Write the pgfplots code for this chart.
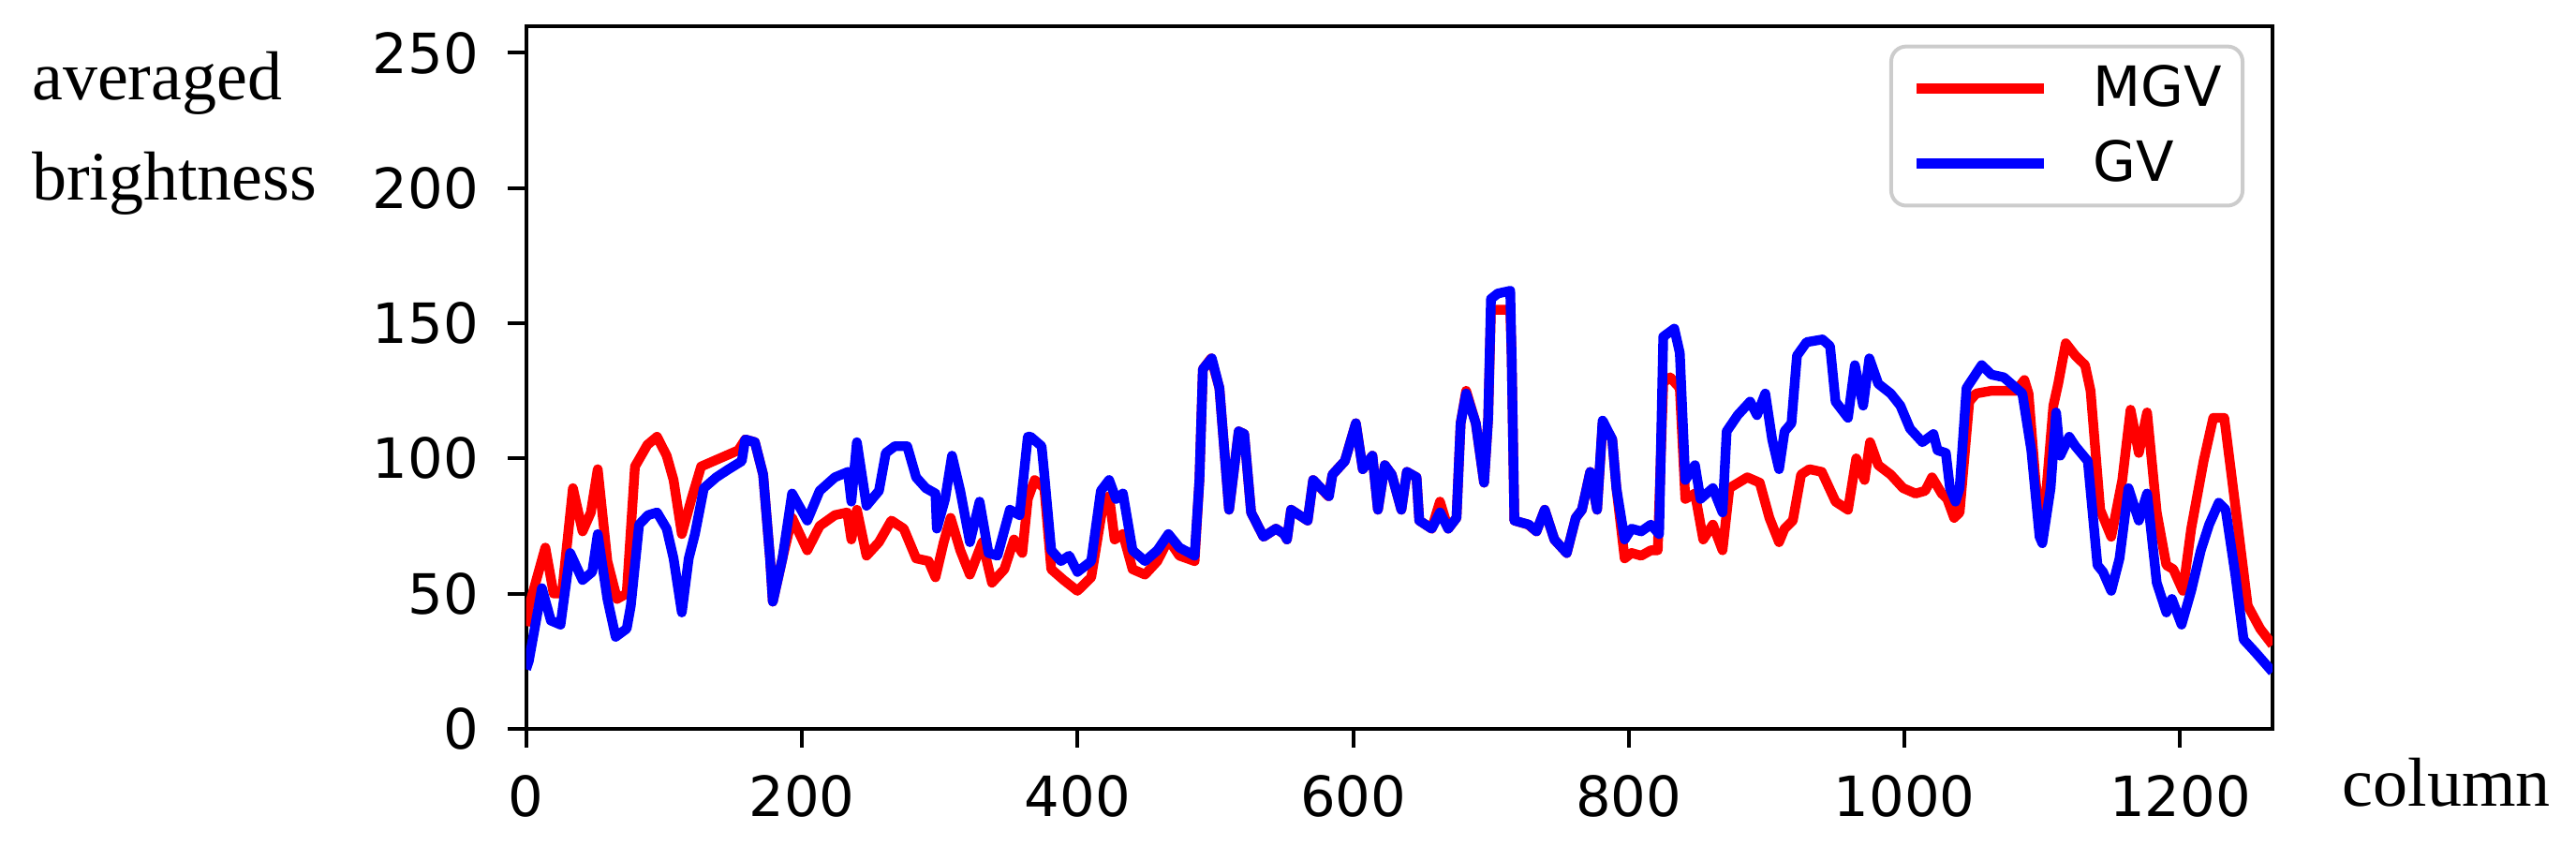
\documentclass[border=0pt]{standalone}
\usepackage{fontspec}
\setmainfont{Liberation Serif}
\newfontfamily\dv{DejaVu Sans}
\usepackage{pgfplots}
\pgfplotsset{compat=1.18}
\definecolor{legframe}{HTML}{CCCCCC}

\begin{document}
\begin{tikzpicture}
\path[use as bounding box] (-140.4pt,-31.05pt) rectangle (547.1pt,194.45pt);
\begin{axis}[
  at={(0,0)}, anchor=south west,
  scale only axis, width=466.1pt, height=187.55pt,
  xmin=0, xmax=1267, ymin=0, ymax=260,
  xtick={0,200,...,1200}, ytick={0,50,...,250},
  tick pos=left, tick align=outside, major tick length=5pt,
  every tick/.style={black, line width=1pt},
  axis line style={line width=1pt},
  /pgf/number format/assume math mode=true,
  /pgf/number format/set thousands separator={},
  ticklabel style={font=\dv\fontsize{14.8}{16}\selectfont},
  yticklabel style={inner sep=0pt, xshift=-7.5pt},
  xticklabel style={inner sep=0pt, yshift=-7.2pt},
  ylabel={averaged\\brightness},
  ylabel style={rotate=-90, align=left, anchor=base west, inner sep=0pt,
    at={(axis description cs:-0.2833,0.752)},
    font=\fontsize{18.5}{26.8}\selectfont},
  xlabel={column},
  xlabel style={anchor=base west, inner sep=0pt,
    at={(axis description cs:1.0397,-0.1096)},
    font=\fontsize{18.5}{22}\selectfont},
  legend cell align=left,
  legend image code/.code={\draw[#1] (0pt,0pt) -- (34pt,0pt);},
  legend style={at={(rel axis cs:1,1)}, anchor=north east,
    xshift=-7.5pt, yshift=-5pt,
    draw=legframe, line width=1pt, rounded corners=4pt,
    inner xsep=5.5pt, inner ysep=5pt, row sep=7.5pt,
    nodes={inner sep=0pt},
    font=\dv\fontsize{14.8}{16}\selectfont,
    /tikz/every odd column/.append style={column sep=11.8pt}},
]
% MGV
\addplot[red, line width=2.6pt, line join=round] coordinates {
(0,38) (2,45) (14,67) (20,50) (26,50) (34,89) (41,73) (47,80) (52,96)
(59,62) (66,48) (73,50) (79,97) (88,105) (95,108) (102,101) (107,92)
(113,72) (120,85) (127,97) (136,99) (145,101) (154,103) (159,107)
(166,106) (172,94) (177,63) (179,47) (186,63) (193,78) (204,66) (213,75)
(224,79) (233,80) (236,70) (240,81) (247,64) (256,69) (265,77) (274,74)
(283,63) (292,62) (297,56) (303,69) (308,78) (315,66) (322,57) (331,69)
(338,54) (347,59) (354,70) (360,65) (364,85) (369,92) (376,89) (381,59)
(390,55) (400,51) (410,56) (418,81) (423,86) (427,70) (433,72) (440,59)
(449,57) (458,62) (466,70) (474,64) (485,62) (488.5,92) (491,133)
(497,137) (503,126) (510,81) (517,110) (521,109) (526,80) (535,71)
(544,74) (550,72) (552,70) (555,81) (567,77) (571,92) (582,86) (585,94)
(594,99) (602,113) (607,96) (614,101) (618,81) (623,97.5) (628,94)
(635,81) (639,95) (646,93) (648,77) (657,74) (663,84) (669,74) (675,78)
(678,113) (682,125) (689,113) (695,91) (698,115) (700,155) (705,155)
(714,155) (715,138) (717,77) (727,75.5) (733,73) (739,81) (746,70)
(755,65) (761.5,78) (766,81) (772,95) (777,81) (781,113) (788,107)
(791,89) (797,63) (802,65) (809,64) (816,66) (821,66) (825,128) (830,130)
(837,126) (841,85) (848,87) (854,70) (861,75.5) (868,66) (873,89)
(886,93) (895,91) (902,78) (909,69) (913,74) (919,77) (925,94) (931,96)
(940,95) (950,84) (959,81) (965,100) (971,92) (975,106) (981,97.5)
(990,94) (999,89) (1008,87) (1015,88) (1020,93) (1027,87) (1031,85)
(1036,78) (1040,80) (1047,121) (1052,124) (1063,125) (1072,125)
(1081,125) (1087,129) (1090,124) (1095,92) (1100,70) (1108,119.5)
(1111.5,127.6) (1117,142.6) (1124,138) (1131,134.5) (1135,125) (1142,81)
(1150,71) (1158,92) (1164,118) (1170,102) (1176,117) (1183,80)
(1190,60.5) (1195,59) (1202,51) (1208,74) (1217,99) (1224,115)
(1232,115) (1240,82.5) (1249,45.5) (1258,37) (1267,31)
};
\addlegendentry{MGV}
% GV
\addplot[blue, line width=2.6pt, line join=round] coordinates {
(0,22) (2,25) (11.5,52) (18,40) (25,38.5) (32,65) (41,55) (48,58) (52,72)
(59,48) (65,34) (73,37) (76,45.5) (82,75.5) (88.5,79) (95,80) (102,74)
(107,63) (113,43) (118,63) (122.5,72) (129,89) (138,93) (147,96)
(156.5,99) (159,107) (166,106) (172,94) (177,63) (179,47) (186,63)
(193,87) (204,77) (213,88) (224,93) (233.5,95) (236,84) (240,106)
(247,82.5) (256,88) (261,102) (267.5,104.5) (276.5,104.5) (283,93)
(290,89) (297,87) (298,74) (304,85) (309,101) (315,88) (322,69) (329,84)
(335.5,65) (342,64) (351,81) (358,79) (364,108) (366,108) (374,104.5)
(376,94) (381,66) (388,62) (394,64) (400,58) (410,62) (417,88) (423,92)
(428,85) (433,87) (440,66) (449,62) (458,66) (466,72) (474,67) (485,64)
(488.5,92) (491,133) (497.5,137) (503,126) (510,81) (517,110) (521,109)
(526,80) (535,71) (544,74) (550,72) (552,70) (555,81) (567,77) (571,92)
(582.5,86) (585,94) (594,99) (602,113) (607,96) (614,101) (618,81)
(623,97.5) (628,94) (635,81) (639,95) (646,93) (648,77) (657,74) (663,80)
(669,74) (675,78) (678,113) (682,124) (689,113) (695,91) (698,115)
(700,159) (705,161) (714,162) (715,138) (717,77) (727.5,75.5) (733,73)
(739,81) (746,70) (755,65) (761.5,78) (766,81) (772,95) (777,81)
(781,114) (788,107) (791,89) (797,70) (802,74) (809,73) (816,75.5)
(822,72) (825,145) (833,148) (837,139) (841,92) (848,97.5) (852,85)
(861,89) (868,80) (871,110) (879,116) (888,121) (893,116) (899,124)
(904,107) (909,96) (913,110) (918,113) (922,138) (929,143) (940.5,144)
(946,141.5) (950,121) (959,115) (964,134.5) (970,119.5) (974.5,137)
(981,127.6) (990,124) (997,119.5) (1004,111) (1013,106) (1021,109)
(1024,103) (1030,102) (1033,89) (1037,84) (1040,89) (1045,126)
(1056,134.5) (1063,131) (1072,130) (1081,126) (1085.5,124) (1092,103)
(1098,71) (1100,68.6) (1106,89) (1110,117) (1113,101) (1119.5,108)
(1124,104.5) (1133,99) (1140,60.5) (1144,58) (1150,51) (1156,63)
(1162.5,89) (1170,77) (1176,87) (1183,54) (1190,43) (1194,48)
(1201,38.5) (1208,51) (1215,66) (1221,75.5) (1228,83.6) (1233,81)
(1240,57) (1246,33) (1255,28) (1267,21)
};
\addlegendentry{GV}
\end{axis}
\end{tikzpicture}
\end{document}
